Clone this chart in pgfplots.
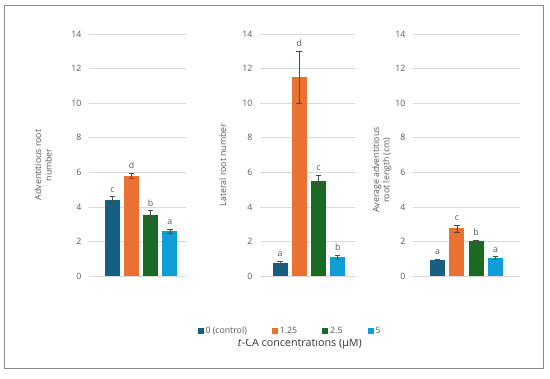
\documentclass[border=0pt]{standalone}
\usepackage{pgfplots}
\pgfplotsset{compat=1.18}
\usepackage{fontspec}
\setmainfont{Open Sans}
\definecolor{cA}{HTML}{156082}
\definecolor{cB}{HTML}{E97132}
\definecolor{cC}{HTML}{196B24}
\definecolor{cD}{HTML}{0F9ED5}
\definecolor{txt}{HTML}{595959}
\definecolor{grd}{HTML}{D9D9D9}
\definecolor{frm}{HTML}{8C8C8C}
\pgfplotsset{
  panel/.style={
    scale only axis, height=242bp, ymin=0, ymax=14, ytick={0,2,...,14},
    axis line style={draw=none}, xtick=\empty, ymajorgrids,
    major grid style={grd, line width=0.6pt}, major tick length=0pt,
    yticklabel style={font=\fontsize{8.8}{10}\selectfont, text=txt, xshift=-4bp},
    ylabel style={font=\fontsize{8.8}{10.5}\selectfont, text=txt, align=center, rotate=0, anchor=center},
    /pgf/number format/assume math mode=true,
    clip=false,
  },
  barp/.style={ybar, bar width=15bp, bar shift=0pt, draw=none, fill=#1,
    error bars/.cd, y dir=both, y explicit,
    error bar style={color=black!70, line width=0.5pt},
    error mark options={rotate=90, mark size=2.8bp, line width=0.5pt, color=black!70}},
  lett/.style={draw=none, mark=none, forget plot, nodes near coords, point meta=explicit symbolic,
    nodes near coords style={font=\fontsize{8.8}{10}\selectfont, text=txt, anchor=south, inner sep=1bp, yshift=3bp}},
}
\begin{document}
\begin{tikzpicture}
\path[use as bounding box] (0,0) rectangle (550bp,379bp);
\draw[frm, line width=1pt] (4bp,11bp) rectangle (543bp,373bp);
% panel 1
\begin{axis}[panel, at={(89bp,103bp)}, anchor=south west, width=97bp,
  xmin=-1.23, xmax=3.85,
  ylabel={Adventitious root\\number},
  ylabel style={at={(axis description cs:-0.474,0.459)}}]
\addplot[barp=cA] coordinates {(0,4.4) +- (0,0.2)};
\addplot[barp=cB] coordinates {(1,5.8) +- (0,0.15)};
\addplot[barp=cC] coordinates {(2,3.5) +- (0,0.28)};
\addplot[barp=cD] coordinates {(3,2.6) +- (0,0.13)};
\addplot[lett] coordinates {(0,4.6)[c] (1,5.95)[d] (2,3.78)[b] (3,2.73)[a]};
\end{axis}
% panel 2
\begin{axis}[panel, at={(260bp,103bp)}, anchor=south west, width=95bp,
  xmin=-1.04, xmax=3.9,
  ylabel={Lateral root number},
  ylabel style={at={(axis description cs:-0.39,0.459)}},
  legend columns=4,
  legend style={at={(axis description cs:0.316,-0.227)}, anchor=center, draw=none,
    font=\fontsize{8.8}{10}\selectfont, text=txt,
    /tikz/every even column/.append style={column sep=23bp}},
  legend image code/.code={\fill[#1] (0bp,-3bp) rectangle (6bp,3bp);},
  xlabel={\textit{t}-CA concentrations (µM)},
  xlabel style={at={(axis description cs:0.42,-0.281)}, anchor=center,
    font=\fontsize{10.8}{12}\selectfont, text=black!80}]
\addplot[barp=cA] coordinates {(0,0.75) +- (0,0.12)};
\addplot[barp=cB] coordinates {(1,11.5) +- (0,1.5)};
\addplot[barp=cC] coordinates {(2,5.5) +- (0,0.35)};
\addplot[barp=cD] coordinates {(3,1.1) +- (0,0.12)};
\addplot[lett] coordinates {(0,0.87)[a] (1,13.0)[d] (2,5.85)[c] (3,1.22)[b]};
\legend{0 (control),1.25,2.5,5}
\end{axis}
% panel 3
\begin{axis}[panel, at={(413bp,103bp)}, anchor=south west, width=107bp,
  xmin=-1.27, xmax=4.27,
  ylabel={Average adventitious\\root length (cm)},
  ylabel style={at={(axis description cs:-0.29,0.438)}}]
\addplot[barp=cA] coordinates {(0,0.9) +- (0,0.07)};
\addplot[barp=cB] coordinates {(1,2.75) +- (0,0.2)};
\addplot[barp=cC] coordinates {(2,2.0) +- (0,0.08)};
\addplot[barp=cD] coordinates {(3,1.05) +- (0,0.07)};
\addplot[lett] coordinates {(0,0.97)[a] (1,2.95)[c] (2,2.08)[b] (3,1.12)[a]};
\end{axis}
\end{tikzpicture}
\end{document}
